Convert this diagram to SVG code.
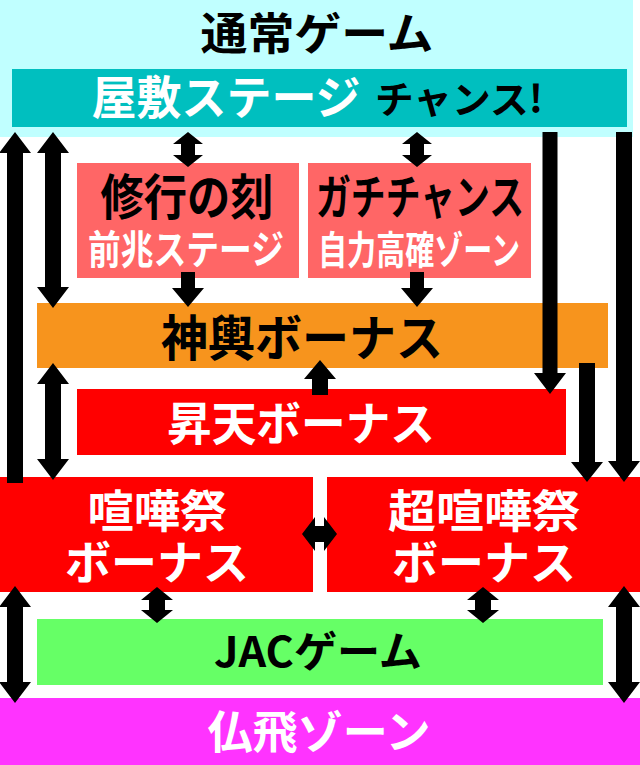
<svg xmlns="http://www.w3.org/2000/svg" width="640" height="765" viewBox="0 0 640 765">
<style>
text{font-family:"Noto Sans CJK JP","Noto Sans",sans-serif;font-weight:700;text-anchor:middle}
.w{fill:#ffffff}.k{fill:#000000}
.arr polygon{fill:#000000}
</style>
<rect x="0" y="0" width="640" height="765" fill="#ffffff"/>
<g id="normal-game">
<rect x="0" y="0" width="633" height="137" fill="#c0ffff"/>
<text class="k" x="317" y="50" font-size="44" textLength="233" lengthAdjust="spacingAndGlyphs">通常ゲーム</text>
</g>
<g id="yashiki-stage">
<rect x="12" y="69" width="615" height="58" fill="#00bfbf"/>
<text class="w" x="226" y="114" font-size="46" textLength="269" lengthAdjust="spacingAndGlyphs">屋敷ステージ</text>
<text class="k" x="459" y="113" font-size="38" textLength="168" lengthAdjust="spacingAndGlyphs">チャンス!</text>
</g>
<g id="shugyo">
<rect x="77" y="163" width="222" height="115" fill="#ff6666"/>
<text class="k" x="187" y="215" font-size="49" textLength="173" lengthAdjust="spacingAndGlyphs">修行の刻</text>
<text class="w" x="186" y="264" font-size="40" textLength="196" lengthAdjust="spacingAndGlyphs">前兆ステージ</text>
</g>
<g id="gachi">
<rect x="308" y="163" width="223" height="115" fill="#ff6666"/>
<text class="k" x="420" y="214" font-size="47" textLength="208" lengthAdjust="spacingAndGlyphs">ガチチャンス</text>
<text class="w" x="419" y="264" font-size="39" textLength="202" lengthAdjust="spacingAndGlyphs">自力高確ゾーン</text>
</g>
<g id="mikoshi">
<rect x="37" y="303" width="571" height="65" fill="#f7941d"/>
<text class="k" x="302" y="356" font-size="49" textLength="282" lengthAdjust="spacingAndGlyphs">神輿ボーナス</text>
</g>
<g id="shoten">
<rect x="77" y="389" width="489" height="66" fill="#ff0000"/>
<text class="w" x="301" y="440" font-size="46" textLength="268" lengthAdjust="spacingAndGlyphs">昇天ボーナス</text>
</g>
<g id="kenka">
<rect x="0" y="477" width="313" height="115" fill="#ff0000"/>
<text class="w" x="157" y="528" font-size="45" textLength="139" lengthAdjust="spacingAndGlyphs">喧嘩祭</text>
<text class="w" x="157" y="579" font-size="46" textLength="184" lengthAdjust="spacingAndGlyphs">ボーナス</text>
</g>
<g id="cho-kenka">
<rect x="327" y="477" width="313" height="115" fill="#ff0000"/>
<text class="w" x="484" y="528" font-size="45" textLength="192" lengthAdjust="spacingAndGlyphs">超喧嘩祭</text>
<text class="w" x="484" y="579" font-size="46" textLength="184" lengthAdjust="spacingAndGlyphs">ボーナス</text>
</g>
<g id="jac">
<rect x="37" y="619" width="566" height="66" fill="#66ff66"/>
<text class="k" x="318" y="667" font-size="42" textLength="208" lengthAdjust="spacingAndGlyphs">JACゲーム</text>
</g>
<g id="buppi">
<rect x="0" y="698" width="640" height="67" fill="#ff33ff"/>
<text class="w" x="319" y="749" font-size="45" textLength="223" lengthAdjust="spacingAndGlyphs">仏飛ゾーン</text>
</g>
<g id="connectors" class="arr">
<polygon points="15,132 31,153 23,153 23,483 7,483 7,153 -1,153"/>
<polygon points="53,132 69,153 61,153 61,287 69,287 53,308 37,287 45,287 45,153 37,153"/>
<polygon points="188,132 203,144 195,144 195,155 203,155 188,167 173,155 181,155 181,144 173,144"/>
<polygon points="417,132 432,144 424,144 424,155 432,155 417,167 402,155 410,155 410,144 402,144"/>
<polygon points="181,272 195,272 195,288 204,288 188,307 172,288 181,288"/>
<polygon points="410,272 424,272 424,288 433,288 417,307 401,288 410,288"/>
<polygon points="542.5,132 557.5,132 557.5,373 566,373 550,394 534,373 542.5,373"/>
<polygon points="579,363 595,363 595,462 603,462 587,482 571,462 579,462"/>
<polygon points="616,132 632,132 632,461 640,461 624,482 608,461 616,461"/>
<polygon points="320,360 336,379 328,379 328,395 312,395 312,379 304,379"/>
<polygon points="53,363 69,384 61,384 61,459 69,459 53,480 37,459 45,459 45,384 37,384"/>
<polygon points="302,534 315,517 315,526 324,526 324,517 337,534 324,551 324,542 315,542 315,551"/>
<polygon points="15,586 31,607 23,607 23,682 31,682 15,703 -1,682 7,682 7,607 -1,607"/>
<polygon points="157,587 173,600 165,600 165,610 173,610 157,623 141,610 149,610 149,600 141,600"/>
<polygon points="483,587 499,600 491,600 491,610 499,610 483,623 467,610 475,610 475,600 467,600"/>
<polygon points="624,586 640,607 632,607 632,682 640,682 624,703 608,682 616,682 616,607 608,607"/>
</g>
</svg>
